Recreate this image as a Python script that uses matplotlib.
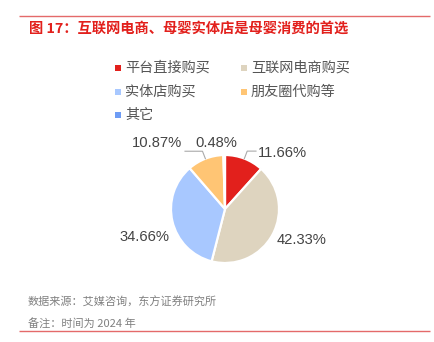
import matplotlib
matplotlib.use('Agg')
import matplotlib.pyplot as plt
import numpy as np

plt.rcParams['font.family'] = ['Noto Sans CJK SC', 'DejaVu Sans']

categories = ['平台直接购买', '互联网电商购买', '实体店购买', '朋友圈代购等', '其它']
shares = [11.66, 42.33, 34.66, 10.87, 0.48]
colors = ['#E2201C', '#DED4BF', '#A8C8FF', '#FFC574', '#6E9CF5']

title = '图 17：互联网电商、母婴实体店是母婴消费的首选'
notes = ['数据来源：艾媒咨询，东方证券研究所', '备注：时间为 2024 年']

W, H = 434, 342
fig = plt.figure(figsize=(W / 100, H / 100), dpi=100)
ax = fig.add_axes([0, 0, 1, 1])

def Y(p):  # pixel row -> data y
    return H - p

cx, cy, r = 225, Y(209), 54
ax.pie(shares, colors=colors, startangle=90, counterclock=False,
       center=(cx, cy), radius=r,
       wedgeprops=dict(edgecolor='white', linewidth=1.6))
ax.set_xlim(0, W)
ax.set_ylim(0, H)
ax.set_aspect('equal')
ax.axis('off')

# frame lines
for yy in (16, 331):
    ax.plot([19, 430], [Y(yy), Y(yy)], color='#E46A6A', lw=1.0, solid_capstyle='butt')

ax.text(29, Y(29), title, color='#E2201C', fontsize=10.3, fontweight='bold',
        va='center', ha='left')

# legend drawn by hand, row-major two columns
for i, (lab, c) in enumerate(zip(categories, colors)):
    row, col = divmod(i, 2)
    x0 = 118 + col * 126
    y0 = Y(68 + row * 23.5)
    ax.scatter([x0], [y0], marker='s', s=14, color=c, linewidths=0)
    ax.text(x0 + 7, y0, lab, fontsize=10.2, color='#555555', va='center', ha='left')

# percentage labels
label_pos = [(258, 153, 'left'), (277, 240, 'left'), (170, 237, 'right'),
             (182, 143, 'right'), (216, 143, 'center')]
for v, (lx, ly, ha) in zip(shares, label_pos):
    ax.text(lx, Y(ly), f'{v:.2f}%', fontsize=10.6, color='#444444',
            family=['Liberation Sans', 'DejaVu Sans'], ha=ha, va='center')

# leader lines for the two small slices near the top
cum = np.cumsum([0] + shares[:-1])
for idx, hx in [(0, 256), (3, 185)]:
    mid = np.deg2rad(90 - (cum[idx] + shares[idx] / 2) * 3.6)
    x1, y1 = cx + r * np.cos(mid), cy + r * np.sin(mid)
    x2, y2 = cx + (r + 8) * np.cos(mid), cy + (r + 8) * np.sin(mid)
    ax.plot([x1, x2, hx], [y1, y2, y2], color='#AAAAAA', lw=0.8)

for k, t in enumerate(notes):
    ax.text(28, Y(302 + k * 21), t, fontsize=8, color='#808080', va='center', ha='left')

fig.savefig('out.png', dpi=100)
